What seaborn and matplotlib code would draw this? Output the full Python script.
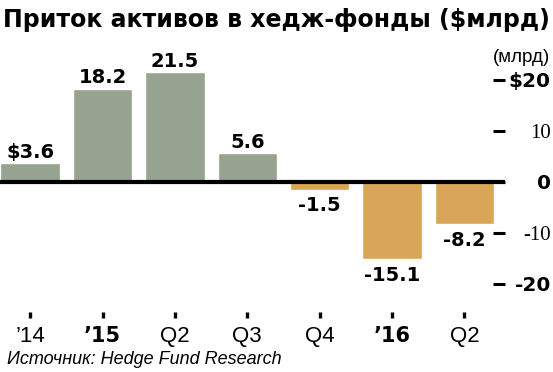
import numpy as np
import pandas as pd
import matplotlib
matplotlib.use("Agg")
import matplotlib.pyplot as plt
import seaborn as sns

# data
quarters = ["2014Q4", "2015Q1", "2015Q2", "2015Q3", "2015Q4", "2016Q1", "2016Q2"]
tick_labels = ["’14", "’15", "Q2", "Q3", "Q4", "’16", "Q2"]
bold_ticks = [False, True, False, False, False, True, False]
flows = [3.6, 18.2, 21.5, 5.6, -1.5, -15.1, -8.2]
value_labels = ["$3.6", "18.2", "21.5", "5.6", "-1.5", "-15.1", "-8.2"]
y_ticks = [20, 10, 0, -10, -20]
y_tick_labels = ["$20", "10", "0", "-10", "-20"]
y_bold = [True, False, True, False, True]

GREEN = "#96a390"
ORANGE = "#d9a558"

sns.set_style("white")
plt.rcParams["font.family"] = ["Liberation Sans", "DejaVu Sans"]
plt.rcParams["text.color"] = "black"
plt.rcParams["xtick.color"] = "black"
plt.rcParams["ytick.color"] = "black"

df = pd.DataFrame({"quarter": quarters, "flow": flows})
df["sign"] = np.where(df["flow"] >= 0, "in", "out")

fig = plt.figure(figsize=(5.53, 3.72), dpi=100)
ax = fig.add_axes([0, 60 / 372, 505 / 553, 272 / 372])

sns.barplot(data=df, x="quarter", y="flow", hue="sign", order=quarters,
            palette={"in": GREEN, "out": ORANGE}, dodge=False, legend=False,
            width=0.82, saturation=1, ax=ax, zorder=2)

ax.axhline(0, color="black", lw=3, zorder=3)

# value labels
for i, (v, txt) in enumerate(zip(flows, value_labels)):
    if v >= 0:
        ax.annotate(txt, (i, v), xytext=(0, 4), textcoords="offset points",
                    ha="center", va="baseline", fontsize=14, fontweight="bold",
                    family="DejaVu Sans", color="black")
    else:
        ax.annotate(txt, (i, v), xytext=(0, -5), textcoords="offset points",
                    ha="center", va="top", fontsize=14, fontweight="bold",
                    family="DejaVu Sans", color="black")

ax.set_xlim(-0.416, 6.56)
ax.set_ylim(-25.5, 27.8)
ax.set_xlabel("")
ax.set_ylabel("")
for s in ax.spines.values():
    s.set_visible(False)

# x axis
ax.set_xticks(range(len(quarters)))
ax.set_xticklabels(tick_labels)
ax.tick_params(axis="x", direction="out", length=4.5, width=2.4, pad=5.5,
               color="black", labelcolor="black", bottom=True)
for lab, b in zip(ax.get_xticklabels(), bold_ticks):
    if b:
        lab.set_fontweight("bold")
        lab.set_family("DejaVu Sans")
        lab.set_fontsize(15)
    else:
        lab.set_fontsize(16)

# y axis on the right
ax.yaxis.tick_right()
ax.set_yticks(y_ticks)
ax.set_yticklabels(y_tick_labels)
ax.tick_params(axis="y", direction="in", length=9, width=2.2, pad=33,
               color="black", labelcolor="black", right=True, left=False)
for lab, b in zip(ax.get_yticklabels(), y_bold):
    lab.set_ha("right")
    if b:
        lab.set_fontweight("bold")
        lab.set_family("DejaVu Sans")
        lab.set_fontsize(14.5)
    else:
        lab.set_family("Liberation Serif")
        lab.set_fontsize(15)

fig.text(3 / 553, 1 - 27 / 372, "Приток активов в хедж-фонды ($млрд)",
         fontsize=17, fontweight="bold", family="DejaVu Sans",
         va="baseline", ha="left")
fig.text(550 / 553, 1 - 57 / 372, "(млрд)", fontsize=13.5, ha="right", va="center")
fig.text(7 / 553, 1 - 359 / 372, "Источник: Hedge Fund Research",
         fontsize=13, style="italic", ha="left", va="center")

fig.savefig("out.png", dpi=100)
